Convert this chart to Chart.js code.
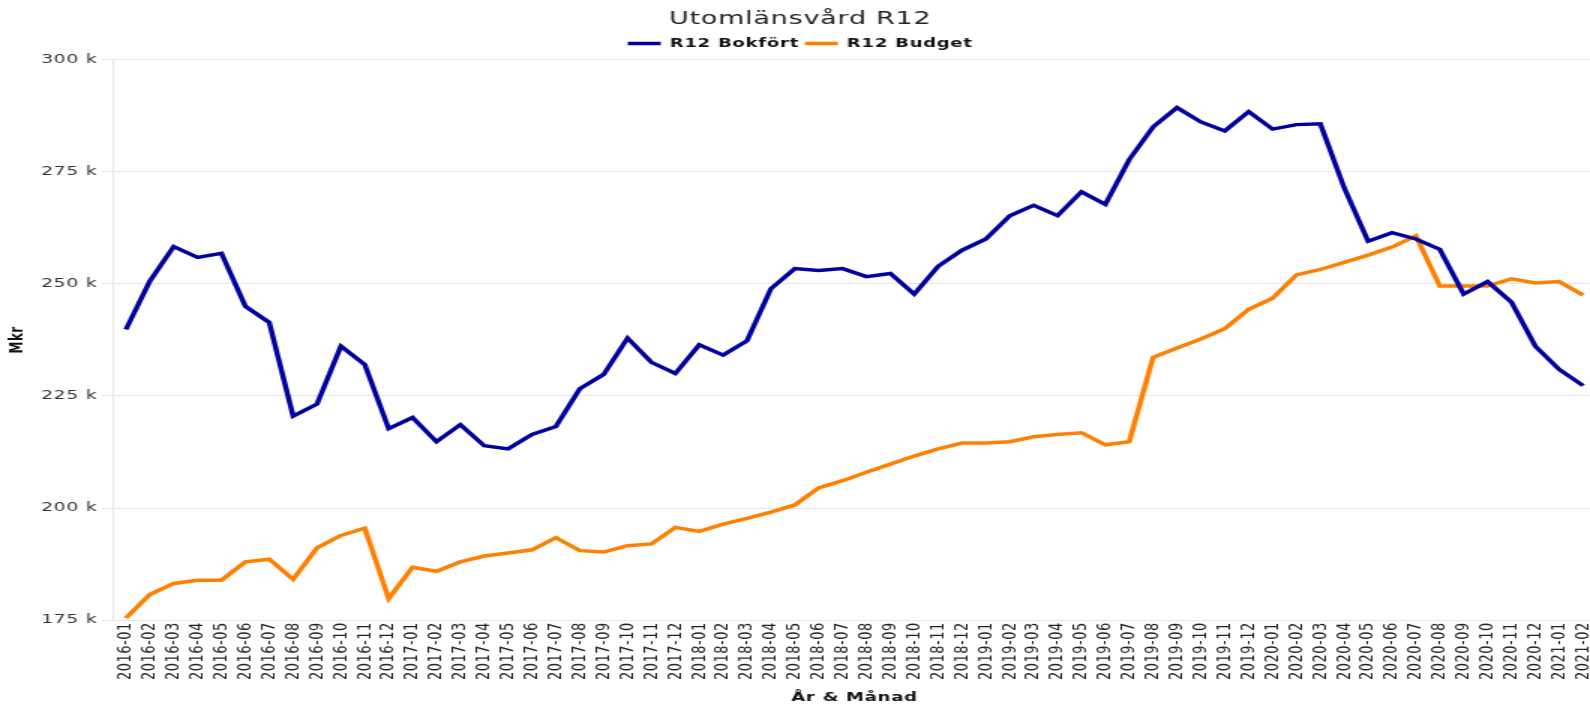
<!DOCTYPE html>
<html>
<head>
<meta charset="utf-8">
<script src="https://cdn.jsdelivr.net/npm/chart.js@4/dist/chart.umd.min.js"></script>
<style>
  html, body { margin: 0; padding: 0; background: #fff; overflow: hidden; width: 1590px; height: 704px; }
  #wrap { width: 1073px; height: 704px; transform: scaleX(1.5); transform-origin: 0 0; }
</style>
</head>
<body>
<div id="wrap"><canvas id="myChart" width="1073" height="704"></canvas></div>
<script>
// months 2016-01 .. 2021-02
var months = ["2016-01","2016-02","2016-03","2016-04","2016-05","2016-06","2016-07","2016-08","2016-09","2016-10","2016-11","2016-12",
  "2017-01","2017-02","2017-03","2017-04","2017-05","2017-06","2017-07","2017-08","2017-09","2017-10","2017-11","2017-12",
  "2018-01","2018-02","2018-03","2018-04","2018-05","2018-06","2018-07","2018-08","2018-09","2018-10","2018-11","2018-12",
  "2019-01","2019-02","2019-03","2019-04","2019-05","2019-06","2019-07","2019-08","2019-09","2019-10","2019-11","2019-12",
  "2020-01","2020-02","2020-03","2020-04","2020-05","2020-06","2020-07","2020-08","2020-09","2020-10","2020-11","2020-12",
  "2021-01","2021-02"];

// values in kr (axis shows thousands)
var bokfort = [239800,250600,258300,255900,256800,245000,241400,220500,223200,236100,232000,217700,
  220200,214800,218600,213900,213200,216400,218200,226600,229800,237900,232500,230000,
  236400,234100,237300,248900,253400,253000,253400,251600,252300,247700,253900,257500,
  260000,265200,267500,265200,270500,267700,277700,285000,289300,286100,284100,288400,
  284500,285500,285700,271400,259500,261400,260000,257700,247700,250500,245900,236100,
  230900,227300];

var budget = [175500,180700,183200,183900,183900,188000,188600,184100,191100,193900,195500,179800,
  186800,185900,188000,189300,190000,190700,193400,190500,190200,191600,192000,195700,
  194800,196400,197700,199100,200700,204500,206100,208000,209800,211600,213200,214500,
  214500,214800,215900,216400,216800,214100,214800,233600,235700,237700,240000,244300,
  246800,252000,253200,254800,256400,258200,260700,249500,249500,249500,251100,250200,
  250500,247500];

var yTicks = [175000,200000,225000,250000,275000,300000];

// slight letter spacing on all chart text, and title/legend nudged left
var tweaks = {
  id: 'tweaks',
  beforeLayout: function(chart) { chart.ctx.letterSpacing = '0.5px'; },
  afterLayout: function(chart) {
    var s = 5.5;
    if (chart.titleBlock) { chart.titleBlock.left -= s; chart.titleBlock.right -= s; }
    if (chart.legend) { chart.legend.left -= s; chart.legend.right -= s; }
  }
};

var ctx = document.getElementById("myChart").getContext('2d');
var lineChart = new Chart(ctx, {
  type: 'line',
  plugins: [tweaks],
  data: {
    labels: months,
    datasets: [{
      label: 'R12 Bokfört',
      data: bokfort,
      borderColor: '#0000a0',
      backgroundColor: '#0000a0',
      borderWidth: 3.5,
      pointRadius: 0,
      pointStyle: 'line',
      tension: 0
    }, {
      label: 'R12 Budget',
      data: budget,
      borderColor: '#ff8000',
      backgroundColor: '#ff8000',
      borderWidth: 3.5,
      pointRadius: 0,
      pointStyle: 'line',
      tension: 0
    }]
  },
  options: {
    responsive: false,
    animation: false,
    devicePixelRatio: 1,
    layout: { padding: { left: 5, right: 0, top: 2, bottom: 0 } },
    plugins: {
      title: {
        display: true,
        text: 'Utomlänsvård R12',
        color: '#222',
        font: { family: 'DejaVu Sans', size: 18, weight: 'normal' },
        padding: { top: 7, bottom: 3 }
      },
      legend: {
        labels: {
          usePointStyle: true,
          pointStyleWidth: 22,
          padding: 4,
          color: '#111',
          font: { family: 'DejaVu Sans', size: 12, weight: 'bold' }
        }
      },
      tooltip: { enabled: false }
    },
    scales: {
      x: {
        offset: true,
        grid: { display: false, drawTicks: false },
        border: { color: '#e6e6e6' },
        ticks: {
          autoSkip: false,
          minRotation: 90,
          maxRotation: 90,
          padding: 2,
          color: '#222',
          font: { family: 'DejaVu Sans', size: 13 }
        },
        title: {
          display: true,
          text: 'År & Månad',
          color: '#111',
          padding: { top: 10, bottom: 0 },
          font: { family: 'DejaVu Sans', size: 12, weight: 'bold', lineHeight: 1 }
        }
      },
      y: {
        min: 175000,
        max: 300000,
        afterBuildTicks: function(axis) {
          axis.ticks = yTicks.map(function(v){ return { value: v }; });
        },
        grid: { color: '#e6e6e6', tickLength: 8 },
        border: { color: '#e6e6e6' },
        ticks: {
          padding: 3,
          color: '#333',
          font: { family: 'DejaVu Sans', size: 12.5 },
          callback: function(v) { return (v / 1000) + ' k'; }
        },
        title: {
          display: true,
          text: 'Mkr',
          color: '#111',
          padding: { top: 0, bottom: 5 },
          font: { family: 'DejaVu Sans', size: 12, weight: 'bold' }
        }
      }
    }
  }
});
</script>
</body>
</html>
